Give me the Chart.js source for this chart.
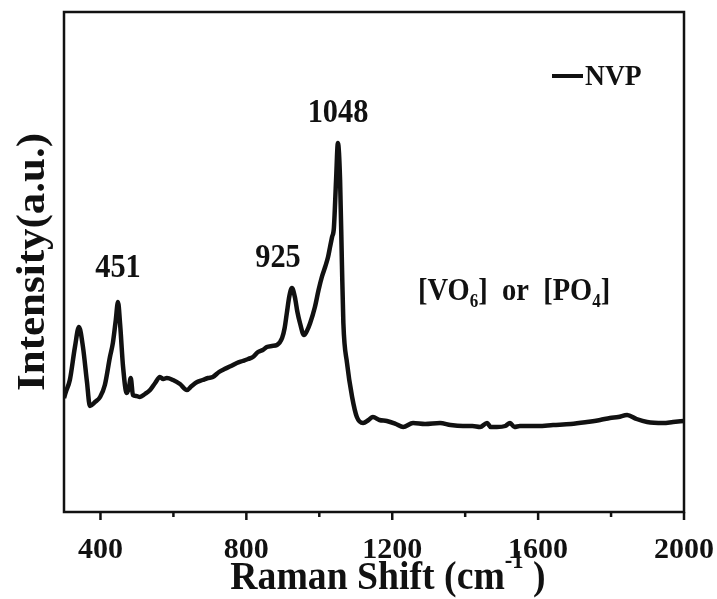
<html>
<head>
    <title>NVP Raman</title>
    <script src="https://cdn.jsdelivr.net/npm/chart.js"></script>
    <style>
        body { margin: 0; background: #fff; }
    </style>
</head>
<body>
    <canvas id="raman_chart" width="717" height="599"></canvas>

<script>
    // values
    const raman_shift = [300, 305, 316, 330, 341, 352, 363, 371, 385, 399,
        412, 426, 434, 442, 448, 454, 462, 472, 478, 483,
        489, 498, 508, 522, 536, 550, 563, 572, 582, 599,
        618, 637, 650, 665, 680, 695, 708, 725, 740, 758,
        774, 790, 805, 818, 832, 845, 856, 870, 884, 898,
        905, 911, 918, 925, 933, 940, 947, 958, 966, 975,
        988, 998, 1007, 1016, 1024, 1030, 1035, 1040, 1046, 1051,
        1057, 1062, 1066, 1076, 1090, 1103, 1120, 1135, 1147, 1165,
        1185, 1210, 1230, 1257, 1290, 1331, 1360, 1394, 1420, 1441,
        1460, 1470, 1487, 1510, 1523, 1535, 1550, 1600, 1641, 1690,
        1734, 1770, 1797, 1820, 1844, 1870, 1899, 1943, 1970, 2000];

    const intensity = [114, 120, 132, 165, 185, 165, 130, 106, 110, 115,
        127, 155, 169, 192, 210, 187, 145, 119, 124, 134,
        117, 116, 115, 118, 122, 129, 135, 133, 134, 132,
        128, 122, 126, 130, 132, 134, 135, 140, 143, 146,
        149, 151, 153, 155, 160, 162, 165, 166, 167, 174,
        184, 199, 216, 224, 215, 200, 189, 177, 181, 189,
        205, 222, 235, 245, 255, 266, 275, 284, 332, 369,
        332, 249, 189, 149, 115, 95, 89, 92, 95, 92,
        91, 88, 85, 89, 88, 89, 87, 86, 86, 85,
        89, 85, 85, 86, 89, 85, 86, 86, 87, 88,
        90, 92, 94, 95, 97, 93, 90, 89, 90, 91];

    const x_ticks = [400, 600, 800, 1000, 1200, 1400, 1600, 1800, 2000];
    const x_labels = [400, 800, 1200, 1600, 2000];
    const series_name = "NVP";
    const peak_labels = ["451", "925", "1048"];

    const SERIF = '"Liberation Serif", "Times New Roman", serif';
    const INK = "#111";
    const SX = 0.92; // the reference text is a bit narrow

    function run_width(ctx, r, size) {
        const s = (r.sub || r.sup) ? size * 0.6 : size;
        ctx.font = "bold " + s + "px " + SERIF;
        return ctx.measureText(r.t).width * SX;
    }

    function draw_runs(ctx, runs, x, y, size, align) {
        const total = runs.reduce((s, r) => s + run_width(ctx, r, size), 0);
        let cx = align === "center" ? x - total / 2 : x;
        runs.forEach(r => {
            const w = run_width(ctx, r, size);
            const dy = r.sub ? size * 0.32 : (r.sup ? -size * 0.4 : 0);
            ctx.save();
            ctx.fillStyle = INK;
            ctx.textAlign = "left";
            ctx.textBaseline = "middle";
            ctx.translate(cx, y + dy);
            ctx.scale(SX, 1);
            ctx.fillText(r.t, 0, 0);
            ctx.restore();
            cx += w;
        });
    }

    const decor = {
        id: "decor",
        afterDraw(chart) {
            const ctx = chart.ctx;
            const area = chart.chartArea;
            const xs = chart.scales.x;

            // frame
            ctx.save();
            ctx.strokeStyle = INK;
            ctx.lineWidth = 2.5;
            ctx.strokeRect(area.left, area.top, area.right - area.left, area.bottom - area.top);

            // outward ticks, major and minor
            x_ticks.forEach(v => {
                const px = xs.getPixelForValue(v);
                const len = x_labels.includes(v) ? 8 : 5;
                ctx.beginPath();
                ctx.moveTo(px, area.bottom);
                ctx.lineTo(px, area.bottom + len);
                ctx.stroke();
            });

            // legend
            ctx.lineWidth = 4;
            ctx.beginPath();
            ctx.moveTo(552, 76);
            ctx.lineTo(583, 76);
            ctx.stroke();
            ctx.restore();
            draw_runs(ctx, [{ t: series_name }], 585, 77, 30, "left");

            // peak labels
            draw_runs(ctx, [{ t: peak_labels[0] }], 118, 268, 33, "center");
            draw_runs(ctx, [{ t: peak_labels[1] }], 278, 258, 33, "center");
            draw_runs(ctx, [{ t: peak_labels[2] }], 338, 113, 33, "center");

            draw_runs(ctx, [
                { t: "[VO" }, { t: "6", sub: true }, { t: "]  or  [PO" }, { t: "4", sub: true }, { t: "]" }
            ], 418, 292, 31, "left");

            // x title
            draw_runs(ctx, [
                { t: "Raman Shift (cm" }, { t: "-1", sup: true }, { t: " )" }
            ], 388, 578, 41, "center");

            // y title
            ctx.save();
            ctx.translate(34, 262);
            ctx.rotate(-Math.PI / 2);
            ctx.scale(1, SX);
            ctx.fillStyle = INK;
            ctx.textAlign = "center";
            ctx.textBaseline = "middle";
            ctx.font = "bold 43px " + SERIF;
            ctx.fillText("Intensity(a.u.)", 0, 0);
            ctx.restore();
        }
    };

    const points = raman_shift.map((x, i) => ({ x: x, y: intensity[i] }));

    new Chart(document.getElementById("raman_chart"), {
        type: "line",
        data: {
            datasets: [{
                label: series_name,
                data: points,
                borderColor: INK,
                borderWidth: 4.5,
                pointRadius: 0,
                cubicInterpolationMode: "monotone",
                fill: false
            }]
        },
        options: {
            responsive: false,
            animation: false,
            devicePixelRatio: 1,
            layout: { padding: { left: 64, top: 12, right: 33, bottom: 0 } },
            plugins: {
                legend: { display: false },
                tooltip: { enabled: false }
            },
            scales: {
                x: {
                    type: "linear",
                    min: 300,
                    max: 2000,
                    afterBuildTicks: scale => {
                        scale.ticks = x_ticks.map(v => ({ value: v }));
                    },
                    afterFit: scale => {
                        scale.height = 87;
                        scale.paddingLeft = 0;
                        scale.paddingRight = 0;
                    },
                    grid: { display: false, drawTicks: false },
                    border: { display: false },
                    ticks: {
                        autoSkip: false,
                        maxRotation: 0,
                        padding: 20,
                        color: INK,
                        font: { family: SERIF, size: 30, weight: "bold" },
                        callback: v => x_labels.includes(v) ? String(v) : ""
                    }
                },
                y: {
                    display: false,
                    min: 0,
                    max: 500
                }
            }
        },
        plugins: [decor]
    });
</script>
</body>
</html>
